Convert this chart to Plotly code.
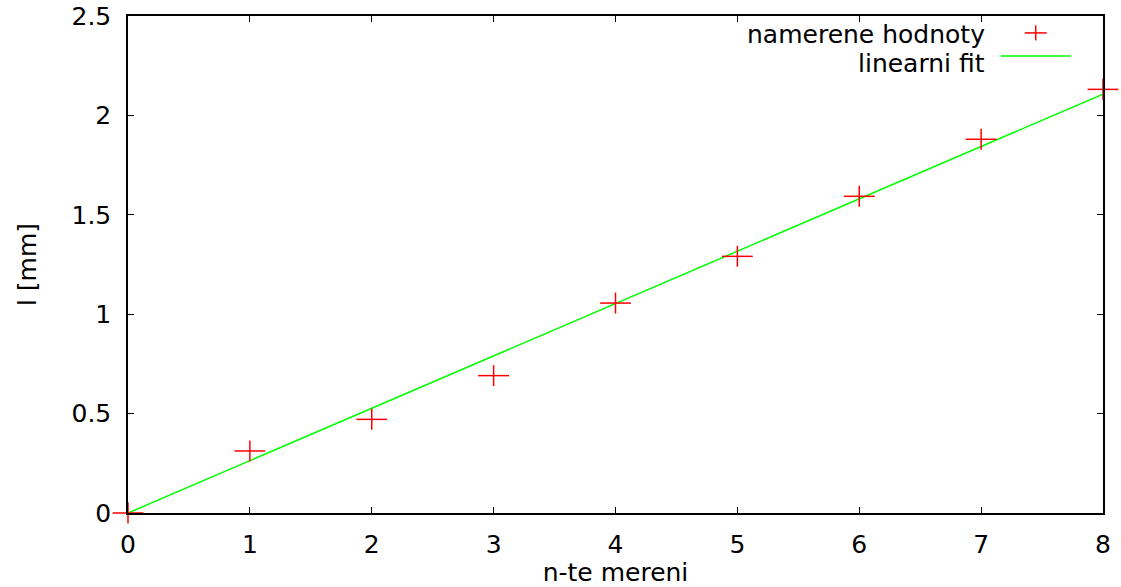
import plotly.graph_objects as go

# data
n_values = [0, 1, 2, 3, 4, 5, 6, 7, 8]
l_values = [0.0, 0.312, 0.471, 0.691, 1.056, 1.291, 1.593, 1.880, 2.131]
fit_x = [0, 8]
fit_y = [0.0, 2.107]
x_ticks = [0, 1, 2, 3, 4, 5, 6, 7, 8]
y_ticks = [0, 0.5, 1, 1.5, 2, 2.5]
legend_labels = ["namerene hodnoty", "linearni fit"]

RED = "#ff0000"
GREEN = "#00ff00"
FONT = "DejaVu Sans"
FS = 25

fig = go.Figure()

fig.add_trace(go.Scatter(
    x=fit_x, y=fit_y, mode="lines",
    line=dict(color=GREEN, width=1.5),
    showlegend=False, hoverinfo="skip",
))
# gnuplot-style plus: wide horizontal bar + shorter vertical bar
fig.add_trace(go.Scatter(
    x=n_values, y=l_values, mode="markers", cliponaxis=False,
    marker=dict(symbol="line-ew-open", size=22, color=RED, line=dict(color=RED, width=1.5)),
    showlegend=False,
))
fig.add_trace(go.Scatter(
    x=n_values, y=l_values, mode="markers", cliponaxis=False,
    marker=dict(symbol="line-ns-open", size=15, color=RED, line=dict(color=RED, width=1.5)),
    showlegend=False,
))

# custom gnuplot-like legend (text right-aligned, sample to the right)
fig.add_annotation(x=0.881, y=0.962, xref="paper", yref="paper", text=legend_labels[0],
                   showarrow=False, xanchor="right", yanchor="middle",
                   font=dict(family=FONT, size=FS, color="black"))
fig.add_annotation(x=0.881, y=0.905, xref="paper", yref="paper", text=legend_labels[1],
                   showarrow=False, xanchor="right", yanchor="middle",
                   font=dict(family=FONT, size=FS, color="black"))
cx, cy = 0.931, 0.966
fig.add_shape(type="line", xref="paper", yref="paper", x0=cx - 0.0113, x1=cx + 0.0113,
              y0=cy, y1=cy, line=dict(color=RED, width=1.5))
fig.add_shape(type="line", xref="paper", yref="paper", x0=cx, x1=cx,
              y0=cy - 0.0151, y1=cy + 0.0151, line=dict(color=RED, width=1.5))
fig.add_shape(type="line", xref="paper", yref="paper", x0=0.895, x1=0.967,
              y0=0.9195, y1=0.9195, line=dict(color=GREEN, width=1.5))

axis_common = dict(
    showgrid=False, zeroline=False, showline=True, linecolor="black", linewidth=1.5,
    mirror="allticks", ticks="inside", ticklen=6, tickwidth=1, tickcolor="black",
    tickfont=dict(family=FONT, size=FS, color="black"), automargin=False,
    ticklabeloverflow="allow",
)

fig.update_layout(
    width=1121, height=587,
    paper_bgcolor="white", plot_bgcolor="white",
    margin=dict(l=128, r=18, t=16, b=74),
    showlegend=False,
    xaxis=dict(range=[0, 8], tickvals=x_ticks, ticklabelstandoff=8,
               title=dict(text="n-te mereni", font=dict(family=FONT, size=FS, color="black"),
                          standoff=9),
               **axis_common),
    yaxis=dict(range=[0, 2.5], tickvals=y_ticks, ticklabelstandoff=10,
               title=dict(text="l [mm]", font=dict(family=FONT, size=FS, color="black"),
                          standoff=28),
               **axis_common),
)

fig.write_html("out.html", config={"displayModeBar": False},
               post_script="document.body.style.margin='0';")
